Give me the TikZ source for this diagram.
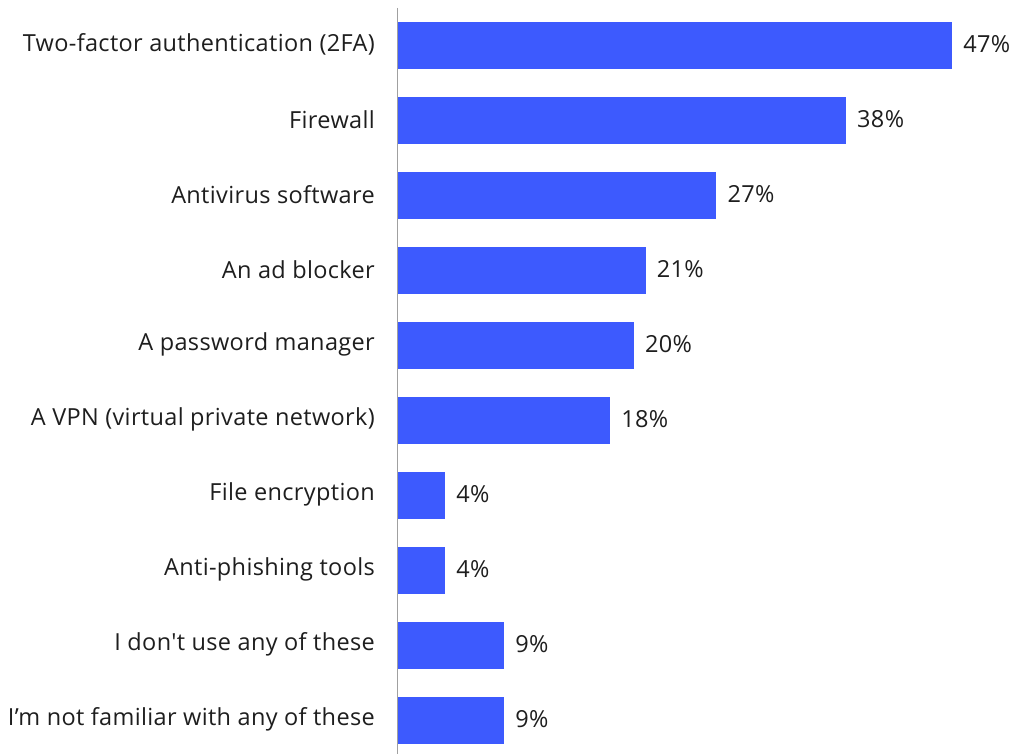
\documentclass[tikz,border=0pt]{standalone}
\usepackage{fontspec}
\setmainfont{Open Sans}[LetterSpace=1.5,Ligatures=TeXOff]
\definecolor{barblue}{HTML}{3D5AFE}
\definecolor{txt}{HTML}{1E1E1E}
\definecolor{axisgray}{HTML}{A0A0A0}
\begin{document}
\begin{tikzpicture}[x=1pt,y=1pt,
  bar/.style={fill=barblue,draw=none},
  cat/.style={anchor=east,inner sep=0pt,text=txt,font=\fontsize{23.5}{26}\selectfont},
  val/.style={anchor=west,inner sep=0pt,text=txt,font=\fontsize{23.5}{26}\selectfont}]
\useasboundingbox (0,0) rectangle (1015,754);
\fill[white] (0,0) rectangle (1015,754);
\foreach \lab/\v [count=\i from 0] in {
  Two-factor authentication (2FA)/47,
  Firewall/38,
  Antivirus software/27,
  An ad blocker/21,
  A password manager/20,
  A VPN (virtual private network)/18,
  File encryption/4,
  Anti-phishing tools/4,
  I don't use any of these/9,
  I’m not familiar with any of these/9}{
  \pgfmathsetmacro{\yc}{754-45.5-75*\i}
  \pgfmathsetmacro{\xe}{398+11.79*\v}
  \path[bar] (398,\yc-23.5) rectangle (\xe,\yc+23.5);
  \node[cat] (c\i) at (375,\yc+1) {\lab};
  \node[val] (v\i) at (\xe+11,\yc+1) {\v\%};
}
\draw[axisgray,line width=1pt] (397.5,746) -- (397.5,0);
\end{tikzpicture}
\end{document}
